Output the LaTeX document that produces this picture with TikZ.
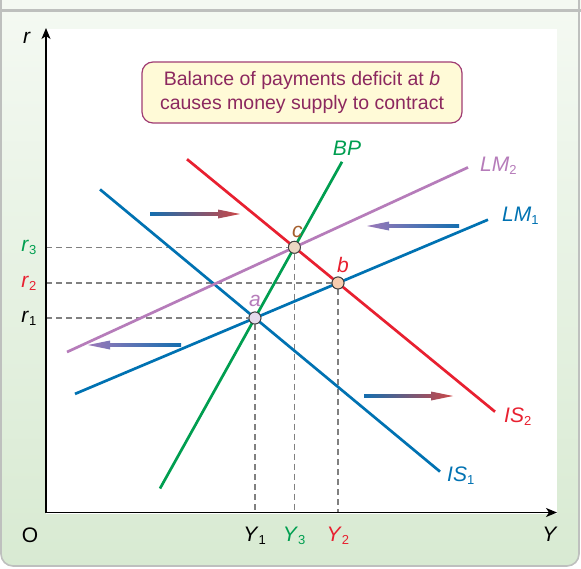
\documentclass[tikz,border=0pt]{standalone}
\usepackage{fontspec}
\setmainfont{Liberation Sans}
\usetikzlibrary{arrows.meta, positioning}

\definecolor{isblue}{RGB}{0,114,178}
\definecolor{isred}{RGB}{232,32,48}
\definecolor{bpgreen}{RGB}{0,158,80}
\definecolor{lmpurple}{RGB}{182,124,186}
\definecolor{cbrown}{RGB}{165,95,45}
\definecolor{guidegray}{RGB}{128,128,128}
\definecolor{notetext}{RGB}{140,40,95}
\definecolor{noteframe}{RGB}{160,60,115}
\definecolor{notefill}{RGB}{255,250,215}
\definecolor{bgtop}{RGB}{244,249,242}
\definecolor{bgbot}{RGB}{216,234,210}
\definecolor{framegray}{RGB}{190,192,190}
\definecolor{ptfillA}{RGB}{228,218,235}
\definecolor{ptfillB}{RGB}{248,205,175}
\definecolor{ptfillC}{RGB}{235,215,195}
\definecolor{arrred}{RGB}{205,70,70}
\definecolor{arrpurple}{RGB}{155,120,185}
\definecolor{arrblue}{RGB}{20,110,175}

\newcommand{\labfont}{\fontsize{21}{24}\selectfont}
\newcommand{\notefont}{\fontsize{19.5}{24}\selectfont}
\newcommand{\lowsub}[1]{\textsubscript{\fontsize{13}{13}\selectfont #1}}

% shaded shift arrow: tail x, tip x, y, shading colours
\newcommand{\shiftarrow}[4]{%
  \pgfmathsetmacro\headback{#2-22*sign(#2-#1)}%
  \shade[#4] (#1,#3-1.8) -- (\headback,#3-1.8) -- (\headback,#3-4.5) -- (#2,#3)
    -- (\headback,#3+4.5) -- (\headback,#3+1.8) -- (#1,#3+1.8) -- cycle;}

\begin{document}
\begin{tikzpicture}[x=1pt, y=-1pt,
    curve/.style={line width=2.7pt},
    guide/.style={draw=guidegray, line width=1.2pt, dash pattern=on 6pt off 4pt},
    axis/.style={line width=1.3pt, -{Stealth[length=11pt, width=9pt, inset=3pt]}},
    point/.style={circle, draw=black!75, line width=0.9pt, minimum size=12pt, inner sep=0pt},
    curvelab/.style={font=\labfont, inner sep=1pt},
    notebox/.style={rectangle, rounded corners=11pt, draw=noteframe, line width=1.2pt, fill=notefill, text=notetext, minimum width=320pt, minimum height=61pt, align=center, font=\notefont}
]

    % --- Panel ---
    \useasboundingbox (0,0) rectangle (581,568);
    \fill[bgtop] (0,0) rectangle (581,12);
    \begin{scope}
        \clip[rounded corners=12pt] (1,-20) rectangle (579,566);
        \shade[top color=bgtop, bottom color=bgbot] (0,11) rectangle (581,568);
    \end{scope}
    \draw[framegray, line width=1.6pt, rounded corners=12pt] (1,-20) rectangle (579,566);
    \draw[framegray, line width=3pt] (0,10.5) -- (581,10.5);
    \fill[white] (46,29) rectangle (557,514);

    % --- Curve ends ---
    \coordinate (is1s) at (100,189.4);
    \coordinate (is1e) at (440,471.6);
    \coordinate (is2s) at (187,159.2);
    \coordinate (is2e) at (495,411.7);
    \coordinate (bps) at (160,488.5);
    \coordinate (bpe) at (342,161.8);
    \coordinate (lm1s) at (75,393.9);
    \coordinate (lm1e) at (488,219.7);
    \coordinate (lm2s) at (67,352);
    \coordinate (lm2e) at (468,167.4);

    % --- Equilibria ---
    \coordinate (origin) at (46,512.5);
    \node[point, fill=ptfillA] (a) at (intersection of is1s--is1e and lm1s--lm1e) {};
    \node[point, fill=ptfillB] (b) at (intersection of is2s--is2e and lm1s--lm1e) {};
    \node[point, fill=ptfillC] (c) at (intersection of is2s--is2e and bps--bpe) {};
    \coordinate (ra) at (a -| origin);
    \coordinate (rb) at (b -| origin);
    \coordinate (rc) at (c -| origin);
    \coordinate (ya) at (a |- origin);
    \coordinate (yb) at (b |- origin);
    \coordinate (yc) at (c |- origin);

    % guide lines
    \draw[guide] (ra) -- (a) -- (ya);
    \draw[guide] (rb) -- (b) -- (yb);
    \draw[guide] (rc) -- (c) -- (yc);

    % --- Curves ---
    \draw[curve, isblue] (is1s) -- (is1e);
    \draw[curve, isred] (is2s) -- (is2e);
    \draw[curve, bpgreen] (bps) -- (bpe);
    \draw[curve, isblue] (lm1s) -- (lm1e);
    \draw[curve, lmpurple] (lm2s) -- (lm2e);

    % shift arrows
    \shiftarrow{150}{240}{214}{left color=arrblue, right color=arrred}
    \shiftarrow{459}{367}{226}{left color=arrpurple, right color=arrblue}
    \shiftarrow{181}{88}{345}{left color=arrpurple, right color=arrblue}
    \shiftarrow{364}{453}{396}{left color=arrblue, right color=arrred}

    % --- Axes ---
    \coordinate (ytip) at (46,28);
    \coordinate (xtip) at (557,512.5);
    \draw[axis] (origin) -- (ytip);
    \draw[axis] (origin) -- (xtip);

    % points on top
    \node[point, fill=ptfillA] at (a) {};
    \node[point, fill=ptfillB] at (b) {};
    \node[point, fill=ptfillC] at (c) {};

    % --- Labels ---
    \node[curvelab] (rlab) at (27,38) {\textit{r}};
    \node[curvelab] (olab) at (30,535) {O};
    \node[curvelab] (ylab) at (550,534) {\textit{Y}};
    \node[curvelab, anchor=east, xshift=-8pt] (r1lab) at (ra) {\textit{r}\lowsub{1}};
    \node[curvelab, anchor=east, xshift=-8pt, text=isred] (r2lab) at (rb) {\textit{r}\lowsub{2}};
    \node[curvelab, anchor=east, xshift=-8pt, text=bpgreen] (r3lab) at (rc) {\textit{r}\lowsub{3}};
    \node[curvelab, below=13pt of ya] (y1lab) {\textit{Y}\lowsub{1}};
    \node[curvelab, below=13pt of yb, text=isred] (y2lab) {\textit{Y}\lowsub{2}};
    \node[curvelab, below=13pt of yc, text=bpgreen] (y3lab) {\textit{Y}\lowsub{3}};

    \node[curvelab, text=lmpurple, right=11pt of lm2e, yshift=2pt] (lm2lab) {\textit{LM}\lowsub{2}};
    \node[curvelab, text=isblue, right=13pt of lm1e, yshift=4pt] (lm1lab) {\textit{LM}\lowsub{1}};
    \node[curvelab, text=isred, right=8pt of is2e, yshift=-5pt] (is2lab) {\textit{IS}\lowsub{2}};
    \node[curvelab, text=isblue, right=6pt of is1e, yshift=-4pt] (is1lab) {\textit{IS}\lowsub{1}};
    \node[curvelab, text=bpgreen, above=5pt of bpe, xshift=5pt] (bplab) {\textit{BP}};

    \node[curvelab, text=lmpurple, above=4pt of a] (alab) {\textit{a}};
    \node[curvelab, text=isred, above=3pt of b, xshift=5pt] (blab) {\textit{b}};
    \node[curvelab, text=cbrown, above=2pt of c, xshift=3pt] (clab) {\textit{c}};

    % --- Note ---
    \node[notebox] (note) at (302,92.5) {Balance of payments deficit at \textit{b}\\causes money supply to contract};

\end{tikzpicture}
\end{document}
